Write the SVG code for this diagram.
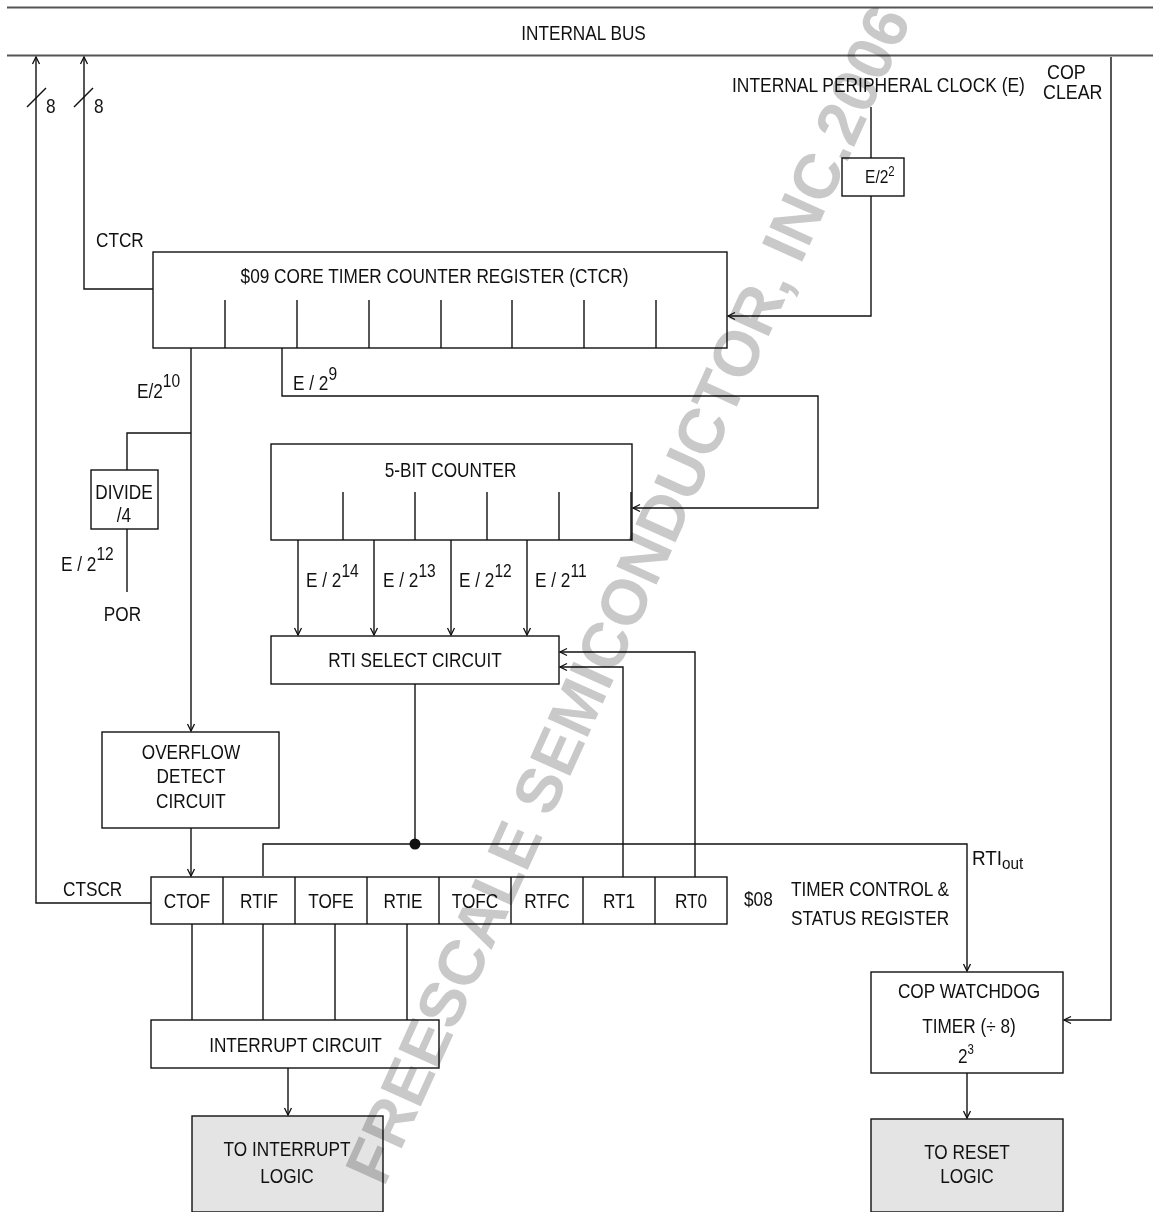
<svg xmlns="http://www.w3.org/2000/svg" width="1153" height="1212" viewBox="0 0 1153 1212">
<defs>
<style>
.t{font-family:"Liberation Sans",Arial,sans-serif;font-size:21px;fill:#111}
.m{text-anchor:middle}
.sup{font-size:19px}
.box{fill:#fff;stroke:#111;stroke-width:1.4}
.gbox{fill:#e4e4e4;stroke:#111;stroke-width:1.4}
.ln{fill:none;stroke:#111;stroke-width:1.4}
.arr{fill:none;stroke:#111;stroke-width:1.4;marker-end:url(#ah)}
.bus{fill:none;stroke:#555;stroke-width:2.2}
.wm{font-family:"Liberation Sans",Arial,sans-serif;font-weight:bold;font-size:64px;fill:#c9c9c9;mix-blend-mode:multiply}
</style>
<marker id="ah" markerUnits="userSpaceOnUse" markerWidth="12" markerHeight="12" refX="10" refY="6" orient="auto">
<path d="M3,2.5 L10,6 L3,9.5" fill="none" stroke="#111" stroke-width="1.3"/>
</marker>
</defs>
<rect width="1153" height="1212" fill="#fff"/>

<g id="internal-bus">
<line class="bus" x1="7" y1="7.5" x2="1153" y2="7.5"/>
<line class="bus" x1="7" y1="55.5" x2="1153" y2="55.5"/>
<text class="t m" transform="translate(583.5,40) scale(.82,1)">INTERNAL BUS</text>
</g>

<g id="ctcr-register">
<rect class="box" x="153" y="252" width="574" height="96"/>
<path class="ln" d="M225,300V348M297,300V348M369,300V348M441,300V348M512,300V348M584,300V348M656,300V348"/>
<text class="t m" transform="translate(434.5,283) scale(.82,1)">$09 CORE TIMER COUNTER REGISTER (CTCR)</text>
</g>

<g id="prescaler-e4">
<rect class="box" x="842" y="158" width="62" height="38"/>
<text class="t" transform="translate(865,183) scale(.82,1)" style="font-size:19px">E/2<tspan dy="-7" style="font-size:14px">2</tspan></text>
</g>

<g id="divide-by-4">
<rect class="box" x="91" y="470" width="67" height="59"/>
<text class="t m" transform="translate(124,499) scale(.82,1)">DIVIDE</text>
<text class="t m" transform="translate(124,522) scale(.82,1)">/4</text>
</g>

<g id="five-bit-counter">
<rect class="box" x="271" y="444" width="361" height="96"/>
<path class="ln" d="M343,492V540M415,492V540M487,492V540M559,492V540M631,492V540"/>
<text class="t m" transform="translate(450.5,477) scale(.82,1)">5-BIT COUNTER</text>
</g>

<g id="rti-select-circuit">
<rect class="box" x="271" y="636" width="288" height="48"/>
<text class="t m" transform="translate(415,667) scale(.82,1)">RTI SELECT CIRCUIT</text>
</g>

<g id="overflow-detect-circuit">
<rect class="box" x="102" y="732" width="177" height="96"/>
<text class="t m" transform="translate(191,759) scale(.82,1)">OVERFLOW</text>
<text class="t m" transform="translate(191,783) scale(.82,1)">DETECT</text>
<text class="t m" transform="translate(191,808) scale(.82,1)">CIRCUIT</text>
</g>

<g id="ctscr-register">
<rect class="box" x="151" y="877" width="576" height="47"/>
<path class="ln" d="M223,877V924M295,877V924M367,877V924M439,877V924M511,877V924M583,877V924M655,877V924"/>
<text class="t m" transform="translate(187,908) scale(.82,1)">CTOF</text>
<text class="t m" transform="translate(259,908) scale(.82,1)">RTIF</text>
<text class="t m" transform="translate(331,908) scale(.82,1)">TOFE</text>
<text class="t m" transform="translate(403,908) scale(.82,1)">RTIE</text>
<text class="t m" transform="translate(475,908) scale(.82,1)">TOFC</text>
<text class="t m" transform="translate(547,908) scale(.82,1)">RTFC</text>
<text class="t m" transform="translate(619,908) scale(.82,1)">RT1</text>
<text class="t m" transform="translate(691,908) scale(.82,1)">RT0</text>
<text class="t" transform="translate(744,906) scale(.82,1)">$08</text>
<text class="t" transform="translate(791,896) scale(.82,1)">TIMER CONTROL &amp;</text>
<text class="t" transform="translate(791,925) scale(.82,1)">STATUS REGISTER</text>
</g>

<g id="interrupt-circuit">
<rect class="box" x="151" y="1020" width="288" height="48"/>
<text class="t m" transform="translate(295.5,1052) scale(.82,1)">INTERRUPT CIRCUIT</text>
</g>

<g id="to-interrupt-logic">
<rect class="gbox" x="192" y="1116" width="191" height="96"/>
<text class="t m" transform="translate(287,1156) scale(.82,1)">TO INTERRUPT</text>
<text class="t m" transform="translate(287,1183) scale(.82,1)">LOGIC</text>
</g>

<g id="cop-watchdog-timer">
<rect class="box" x="871" y="972" width="192" height="101"/>
<text class="t m" transform="translate(969,998) scale(.82,1)">COP WATCHDOG</text>
<text class="t m" transform="translate(969,1033) scale(.82,1)">TIMER (÷ 8)</text>
<text class="t" transform="translate(958,1063) scale(.82,1)">2<tspan dy="-9" style="font-size:14px">3</tspan></text>
</g>

<g id="to-reset-logic">
<rect class="gbox" x="871" y="1119" width="192" height="93"/>
<text class="t m" transform="translate(967,1159) scale(.82,1)">TO RESET</text>
<text class="t m" transform="translate(967,1183) scale(.82,1)">LOGIC</text>
</g>

<g id="connectors">
<path class="arr" d="M151,903H36V57"/>
<line class="ln" x1="27" y1="107" x2="46" y2="88"/>
<text class="t" transform="translate(46,113) scale(.82,1)">8</text>
<text class="t" transform="translate(63,896) scale(.82,1)">CTSCR</text>
<path class="arr" d="M153,289H84V57"/>
<line class="ln" x1="74" y1="107" x2="93" y2="88"/>
<text class="t" transform="translate(94,113) scale(.82,1)">8</text>
<text class="t" transform="translate(96,247) scale(.82,1)">CTCR</text>
<text class="t" transform="translate(732,92) scale(.83,1)">INTERNAL PERIPHERAL CLOCK (E)</text>
<line class="ln" x1="871" y1="107" x2="871" y2="158"/>
<path class="arr" d="M871,196V316H728"/>
<text class="t" transform="translate(1047,79) scale(.85,1)">COP</text>
<text class="t" transform="translate(1043,99) scale(.85,1)">CLEAR</text>
<path class="arr" d="M1111,57V1020H1064"/>
<path class="arr" d="M191,348V731"/>
<text class="t" transform="translate(137,398) scale(.82,1)">E/2<tspan class="sup" dy="-11">10</tspan></text>
<path class="ln" d="M191,433H127V470"/>
<line class="ln" x1="127" y1="529" x2="127" y2="592"/>
<text class="t" transform="translate(61,571) scale(.82,1)">E / 2<tspan class="sup" dy="-11">12</tspan></text>
<text class="t m" transform="translate(122.5,621) scale(.82,1)">POR</text>
<path class="arr" d="M282,348V396H818V508H633"/>
<text class="t" transform="translate(293,390) scale(.82,1)">E / 2<tspan class="sup" dy="-10">9</tspan></text>
<path class="arr" d="M298,540V635"/>
<path class="arr" d="M374,540V635"/>
<path class="arr" d="M451,540V635"/>
<path class="arr" d="M527,540V635"/>
<text class="t" transform="translate(306,587) scale(.82,1)">E / 2<tspan class="sup" dy="-10">14</tspan></text>
<text class="t" transform="translate(383,587) scale(.82,1)">E / 2<tspan class="sup" dy="-10">13</tspan></text>
<text class="t" transform="translate(459,587) scale(.82,1)">E / 2<tspan class="sup" dy="-10">12</tspan></text>
<text class="t" transform="translate(535,587) scale(.82,1)">E / 2<tspan class="sup" dy="-10">11</tspan></text>
<path class="arr" d="M623,877V667H560"/>
<path class="arr" d="M695,877V652H560"/>
<line class="ln" x1="415" y1="684" x2="415" y2="844"/>
<circle cx="415" cy="844" r="5.5" fill="#111"/>
<path class="arr" d="M263,876V844H967V971"/>
<text class="t" transform="translate(972,865) scale(.9,1)">RTI<tspan dy="4" style="font-size:17px">out</tspan></text>
<path class="arr" d="M191,828V876"/>
<path class="ln" d="M192,924V1020M263,924V1020M335,924V1020M407,924V1020"/>
<path class="arr" d="M288,1068V1115"/>
<path class="arr" d="M967,1073V1118"/>
</g>

<text class="wm" transform="translate(384,1188) rotate(-65.7)">FREESCALE SEMICONDUCTOR, INC.2006</text>
</svg>
